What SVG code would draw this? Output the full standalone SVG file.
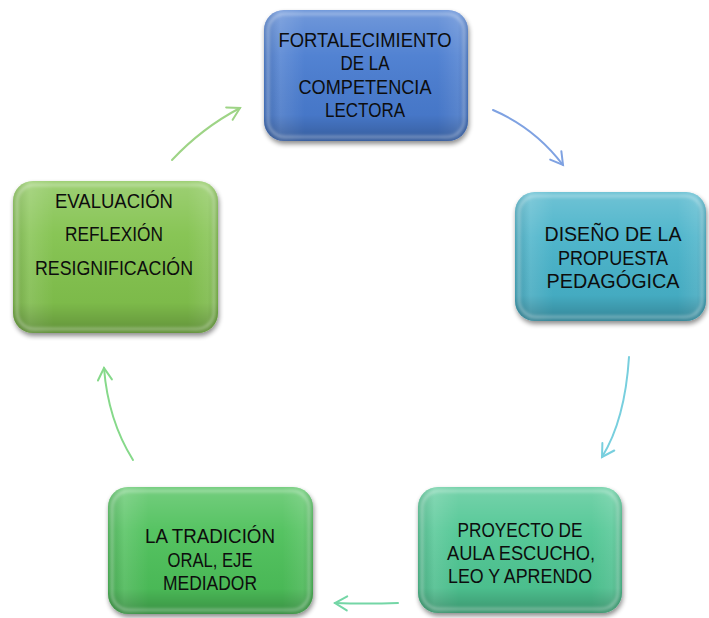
<svg xmlns="http://www.w3.org/2000/svg" width="709" height="618" viewBox="0 0 709 618">
<defs>
<linearGradient id="shade" x1="0" y1="0" x2="0" y2="1">
<stop offset="0" stop-color="#ffffff" stop-opacity="0.22"/>
<stop offset="0.35" stop-color="#ffffff" stop-opacity="0.05"/>
<stop offset="0.8" stop-color="#000000" stop-opacity="0.04"/>
<stop offset="1" stop-color="#000000" stop-opacity="0.25"/>
</linearGradient>
<linearGradient id="side" x1="0" y1="0" x2="1" y2="0">
<stop offset="0" stop-color="#000000" stop-opacity="0.12"/>
<stop offset="0.08" stop-color="#ffffff" stop-opacity="0.12"/>
<stop offset="0.2" stop-color="#ffffff" stop-opacity="0"/>
<stop offset="0.85" stop-color="#ffffff" stop-opacity="0"/>
<stop offset="0.95" stop-color="#ffffff" stop-opacity="0.1"/>
<stop offset="1" stop-color="#000000" stop-opacity="0.12"/>
</linearGradient>
<filter id="sh" x="-10%" y="-10%" width="120%" height="125%">
<feGaussianBlur in="SourceAlpha" stdDeviation="2.5"/>
<feOffset dx="1" dy="3" result="b"/>
<feComponentTransfer><feFuncA type="linear" slope="0.45"/></feComponentTransfer>
<feMerge><feMergeNode/><feMergeNode in="SourceGraphic"/></feMerge>
</filter>
<filter id="blur"><feGaussianBlur stdDeviation="1.5"/></filter>
<marker id="ah1" markerUnits="userSpaceOnUse" markerWidth="30" markerHeight="30" viewBox="-15 -15 30 30" orient="auto"><path d="M-12,-7 L0,0 L-12,7" fill="none" stroke="#7fa2e2" stroke-width="2" stroke-linecap="round"/></marker>
<marker id="ah2" markerUnits="userSpaceOnUse" markerWidth="30" markerHeight="30" viewBox="-15 -15 30 30" orient="auto"><path d="M-12,-7 L0,0 L-12,7" fill="none" stroke="#78cfde" stroke-width="2" stroke-linecap="round"/></marker>
<marker id="ah3" markerUnits="userSpaceOnUse" markerWidth="30" markerHeight="30" viewBox="-15 -15 30 30" orient="auto"><path d="M-12,-7 L0,0 L-12,7" fill="none" stroke="#74d6a6" stroke-width="2" stroke-linecap="round"/></marker>
<marker id="ah4" markerUnits="userSpaceOnUse" markerWidth="30" markerHeight="30" viewBox="-15 -15 30 30" orient="auto"><path d="M-12,-7 L0,0 L-12,7" fill="none" stroke="#86d98a" stroke-width="2" stroke-linecap="round"/></marker>
<marker id="ah5" markerUnits="userSpaceOnUse" markerWidth="30" markerHeight="30" viewBox="-15 -15 30 30" orient="auto"><path d="M-12,-7 L0,0 L-12,7" fill="none" stroke="#9ed486" stroke-width="2" stroke-linecap="round"/></marker>
</defs>
<style>
.lbl{font-family:"Liberation Sans",Arial,sans-serif;font-size:20px;fill:#0d0d0d;text-anchor:middle}
.ov{fill:url(#shade)}
.sd{fill:url(#side)}
.hl{fill:none;stroke:#ffffff;stroke-opacity:0.3;stroke-width:3;filter:url(#blur)}
.con{fill:none;stroke-width:2;stroke-linecap:round}
</style>
<rect width="709" height="618" fill="#ffffff"/>
<g id="connectors">
<path class="con" d="M493,110 Q535,128 563,165" stroke="#7fa2e2" marker-end="url(#ah1)"/>
<path class="con" d="M629,357 Q625,420 602,457" stroke="#78cfde" marker-end="url(#ah2)"/>
<path class="con" d="M398,603 Q365,604 335,603" stroke="#74d6a6" marker-end="url(#ah3)"/>
<path class="con" d="M133,460 Q108,420 104,368" stroke="#86d98a" marker-end="url(#ah4)"/>
<path class="con" d="M172,160 Q202,128 240,108" stroke="#9ed486" marker-end="url(#ah5)"/>
</g>
<g id="n1">
<rect x="264" y="10" width="204" height="131" rx="20" fill="#4a7bd0" filter="url(#sh)"/>
<rect x="264" y="10" width="204" height="131" rx="20" class="sd"/>
<rect x="264" y="10" width="204" height="131" rx="20" class="ov"/>
<rect x="268" y="14" width="196" height="123" rx="17" class="hl"/>
<text class="lbl" x="365" y="47" textLength="173" lengthAdjust="spacingAndGlyphs">FORTALECIMIENTO</text>
<text class="lbl" x="365" y="70" textLength="49" lengthAdjust="spacingAndGlyphs">DE LA</text>
<text class="lbl" x="365" y="94" textLength="133" lengthAdjust="spacingAndGlyphs">COMPETENCIA</text>
<text class="lbl" x="365" y="117" textLength="80" lengthAdjust="spacingAndGlyphs">LECTORA</text>
</g>
<g id="n2">
<rect x="515" y="192" width="191" height="129" rx="20" fill="#46b2c9" filter="url(#sh)"/>
<rect x="515" y="192" width="191" height="129" rx="20" class="sd"/>
<rect x="515" y="192" width="191" height="129" rx="20" class="ov"/>
<rect x="519" y="196" width="183" height="121" rx="17" class="hl"/>
<text class="lbl" x="613" y="241" textLength="137" lengthAdjust="spacingAndGlyphs">DISEÑO DE LA</text>
<text class="lbl" x="613" y="265" textLength="110" lengthAdjust="spacingAndGlyphs">PROPUESTA</text>
<text class="lbl" x="613" y="288" textLength="133" lengthAdjust="spacingAndGlyphs">PEDAGÓGICA</text>
</g>
<g id="n3">
<rect x="418" y="487" width="204" height="126" rx="20" fill="#4fc693" filter="url(#sh)"/>
<rect x="418" y="487" width="204" height="126" rx="20" class="sd"/>
<rect x="418" y="487" width="204" height="126" rx="20" class="ov"/>
<rect x="422" y="491" width="196" height="118" rx="17" class="hl"/>
<text class="lbl" x="520" y="537" textLength="125" lengthAdjust="spacingAndGlyphs">PROYECTO DE</text>
<text class="lbl" x="521" y="560" textLength="148" lengthAdjust="spacingAndGlyphs">AULA ESCUCHO,</text>
<text class="lbl" x="520" y="583" textLength="144" lengthAdjust="spacingAndGlyphs">LEO Y APRENDO</text>
</g>
<g id="n4">
<rect x="108" y="487" width="205" height="127" rx="20" fill="#4ec05a" filter="url(#sh)"/>
<rect x="108" y="487" width="205" height="127" rx="20" class="sd"/>
<rect x="108" y="487" width="205" height="127" rx="20" class="ov"/>
<rect x="112" y="491" width="197" height="119" rx="17" class="hl"/>
<text class="lbl" x="210" y="543" textLength="130" lengthAdjust="spacingAndGlyphs">LA TRADICIÓN</text>
<text class="lbl" x="210" y="567" textLength="85" lengthAdjust="spacingAndGlyphs">ORAL, EJE</text>
<text class="lbl" x="210" y="590" textLength="94" lengthAdjust="spacingAndGlyphs">MEDIADOR</text>
</g>
<g id="n5">
<rect x="13" y="181" width="205" height="152" rx="20" fill="#82c24e" filter="url(#sh)"/>
<rect x="13" y="181" width="205" height="152" rx="20" class="sd"/>
<rect x="13" y="181" width="205" height="152" rx="20" class="ov"/>
<rect x="17" y="185" width="197" height="144" rx="17" class="hl"/>
<text class="lbl" x="114" y="208" textLength="118" lengthAdjust="spacingAndGlyphs">EVALUACIÓN</text>
<text class="lbl" x="114" y="241" textLength="98" lengthAdjust="spacingAndGlyphs">REFLEXIÓN</text>
<text class="lbl" x="114" y="275" textLength="158" lengthAdjust="spacingAndGlyphs">RESIGNIFICACIÓN</text>
</g>
</svg>
